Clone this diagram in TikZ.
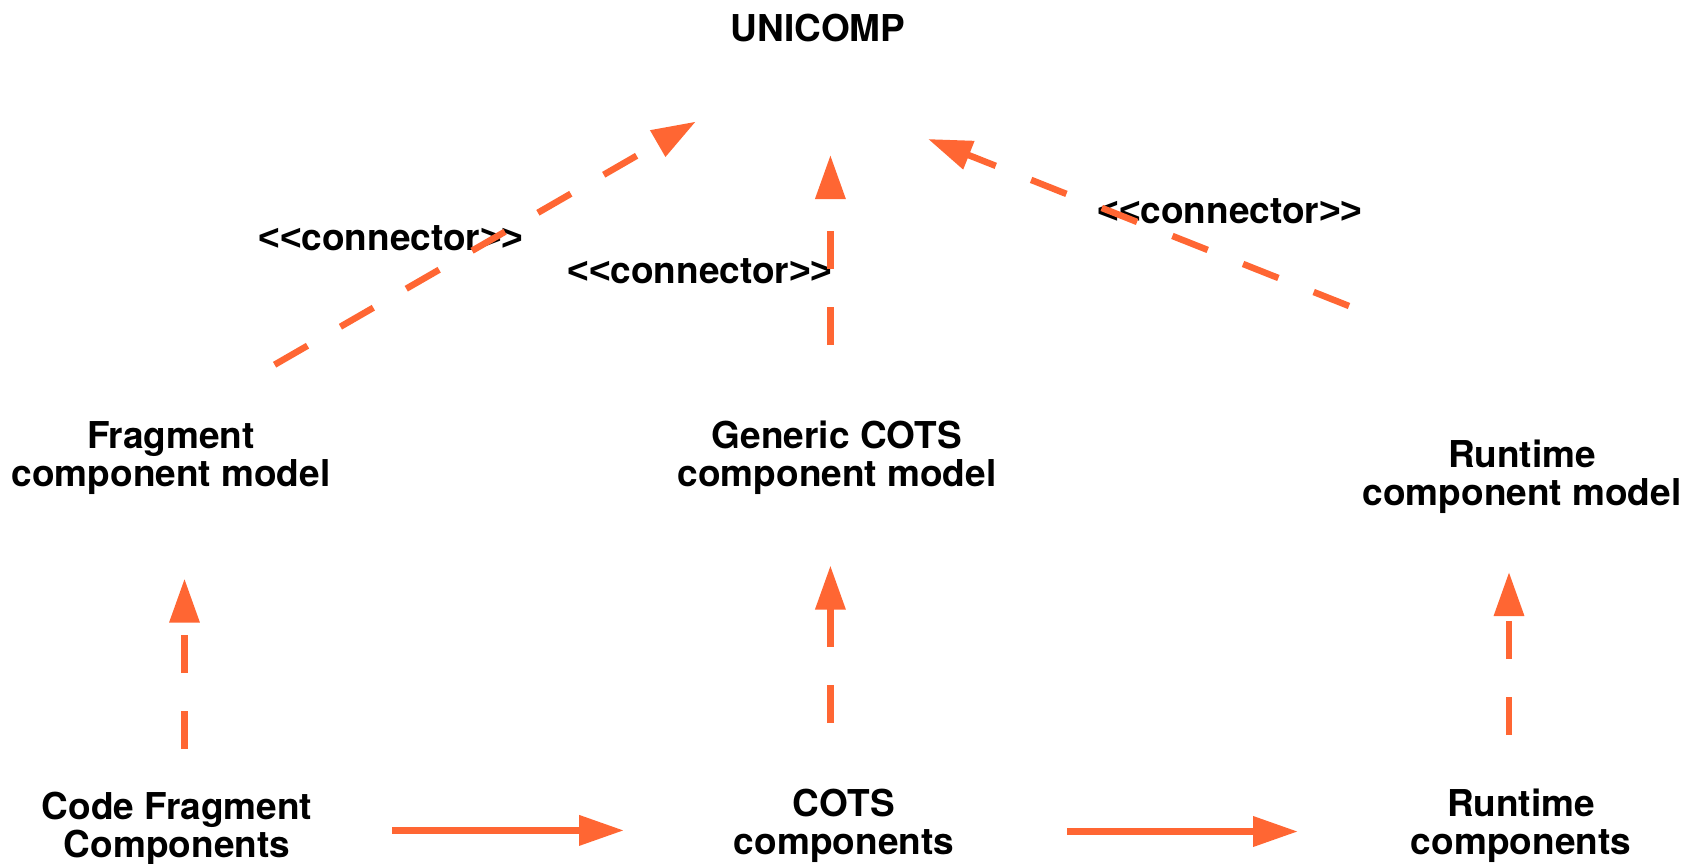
\documentclass[tikz,border=0pt]{standalone}
\usepackage{fontspec}
\setmainfont{TeX Gyre Heros}
\newfontfamily\brk{Liberation Sans}
\usetikzlibrary{arrows.meta}
\definecolor{flowc}{HTML}{FF6633}
% stereotype text with bold angle brackets
\newcommand{\stereo}[1]{{\brk <{}<}#1{\brk >{}>}}

\begin{document}
\begin{tikzpicture}[x=1pt, y=-1pt,
  txt/.style={font=\bfseries\fontsize{37}{38}\selectfont, align=center, inner sep=0pt, text=black},
  dep/.style={draw=flowc, line width=6.5pt, dash pattern=on 38pt off 38pt,
              -{Triangle[length=44pt,width=29pt]}},
  flow/.style={draw=flowc, line width=7pt,
              -{Triangle[length=45pt,width=29pt]}}]
\useasboundingbox (0,0) rectangle (1702,863);

% models and components
\node[txt] (uni)   at (818,28)   {UNICOMP};
\node[txt] (frag)  at (171,458)  {Fragment\\component model};
\node[txt] (gen)   at (837,458)  {Generic COTS\\component model};
\node[txt] (rtm)   at (1522,477) {Runtime\\component model};
\node[txt] (cfc)   at (177,829)  {Code Fragment\\Components};
\node[txt] (cots)  at (844,826)  {COTS\\components};
\node[txt] (rtc)   at (1521,826) {Runtime\\components};

% connector labels
\node[txt] (c1) at (391,238)  {\stereo{connector}};
\node[txt] (c2) at (700,271)  {\stereo{connector}};
\node[txt] (c3) at (1230,211) {\stereo{connector}};

% connector end points
\coordinate (fragUp)  at (274.6,364.7);
\coordinate (uniL)    at (695.8,121.6);
\coordinate (genUp)   at (830.4,345);
\coordinate (uniB)    at (830.4,155);
\coordinate (rtmUp)   at (1349,306);
\coordinate (uniR)    at (928,139);
\coordinate (cfcUp)   at (184.5,749);
\coordinate (fragDn)  at (184.5,578.6);
\coordinate (cotsUp)  at (830.4,723);
\coordinate (genDn)   at (830.4,565.5);
\coordinate (rtcUp)   at (1509,735);
\coordinate (rtmDn)   at (1509,572);
\coordinate (cfcR)    at (392,830.4);
\coordinate (cotsL)   at (624,830.4);
\coordinate (cotsR)   at (1067,831.5);
\coordinate (rtcL)    at (1298,831.5);

% dependencies
\draw[dep] (fragUp) -- (uniL);
\draw[dep] (genUp)  -- (uniB);
\draw[dep] (rtmUp)  -- (uniR);
\draw[dep] (cfcUp)  -- (fragDn);
\draw[dep] (cotsUp) -- (genDn);
\draw[dep] (rtcUp)  -- (rtmDn);

% flow between components
\draw[flow] (cfcR)  -- (cotsL);
\draw[flow] (cotsR) -- (rtcL);
\end{tikzpicture}
\end{document}
